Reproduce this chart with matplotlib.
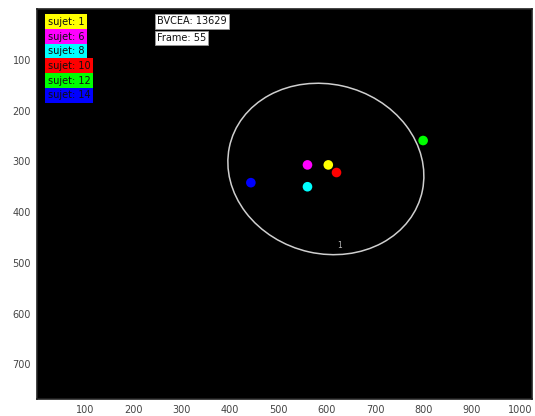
import numpy as np
import matplotlib
matplotlib.use("Agg")
import matplotlib.pyplot as plt
from matplotlib.patches import Ellipse

# subjects shown in frame 55
SUBJECTS = [1, 6, 8, 10, 12, 14]
COLORS = ["#ffff00", "#ff00ff", "#00ffff", "#ff0000", "#00ff00", "#0000ff"]
X_POS = [603, 560, 560, 620, 799, 443]
Y_POS = [307, 307, 350, 322, 259, 342]

# group ellipse (centre, full width / height, rotation in degrees)
ELL_CENTER = (598, 315)
ELL_WIDTH = 408
ELL_HEIGHT = 334
ELL_ANGLE = 12

INFO_LINES = ["BVCEA: 13629", "Frame: 55"]

W, H = 535, 416
fig = plt.figure(figsize=(W / 100, H / 100), dpi=100)
ax = fig.add_axes([36.5 / W, 1 - 399 / H, (532 - 36.5) / W, (399 - 9) / H])
ax.set_facecolor("black")

ax.scatter(X_POS, Y_POS, s=48, c=COLORS, edgecolors="none", zorder=3)

ell = Ellipse(ELL_CENTER, ELL_WIDTH, ELL_HEIGHT, angle=ELL_ANGLE,
              fill=False, edgecolor="#cfcfcf", lw=1.1, zorder=2)
ax.add_patch(ell)
ax.text(627, 466, "1", color="#bbbbbb", fontsize=5.5, ha="center", va="center")

ax.set_xlim(0, 1024)
ax.set_ylim(768, 0)
ax.set_xticks(np.arange(100, 1001, 100))
ax.set_yticks(np.arange(100, 701, 100))
ax.tick_params(length=0, labelsize=7, labelcolor="#444444", pad=4)
for sp in ax.spines.values():
    sp.set_color("#222222")
    sp.set_linewidth(1.2)

# subject labels, top-left
for k, (sid, col) in enumerate(zip(SUBJECTS, COLORS)):
    y = 22 + k * 14.7
    fig.text(48 / W, 1 - y / H, f"sujet: {sid}", fontsize=7, color="#111111",
             ha="left", va="center",
             bbox=dict(boxstyle="square,pad=0.27", fc=col, ec="none"))

# frame info
for k, line in enumerate(INFO_LINES):
    y = 21.5 + k * 16.5
    fig.text(157 / W, 1 - y / H, line, fontsize=7, color="#111111",
             ha="left", va="center",
             bbox=dict(boxstyle="square,pad=0.22", fc="white", ec="#999999", lw=0.6))

fig.savefig("out.png", dpi=100, facecolor="white")
